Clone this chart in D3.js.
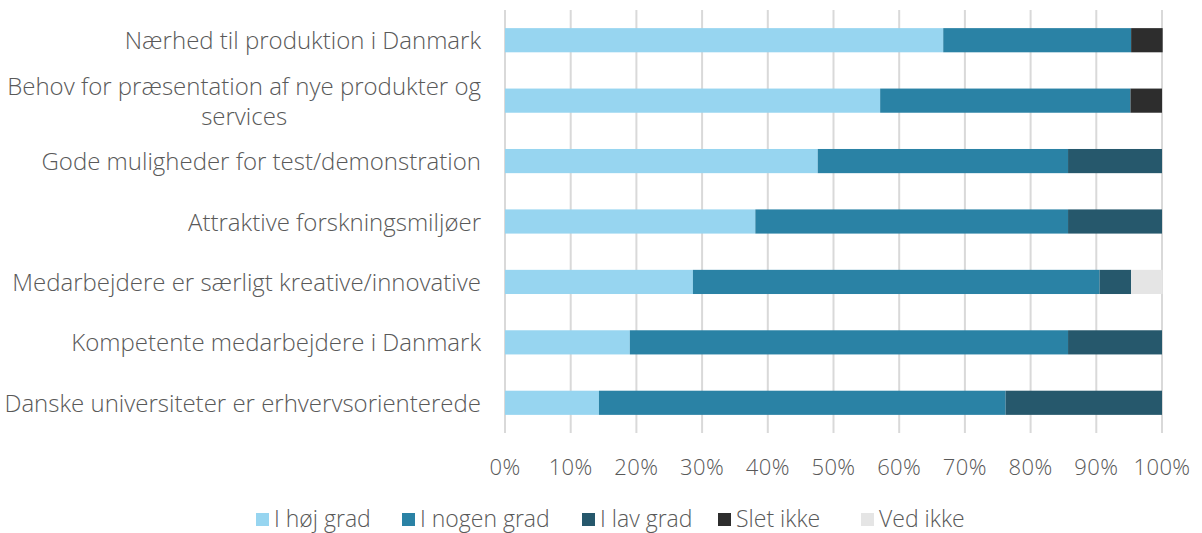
<!DOCTYPE html>
<html>
<head>
<meta charset="utf-8">
<script src="https://cdn.jsdelivr.net/npm/d3@7"></script>
<style>
  body { margin: 0; background: #fff; }
  text { font-family: "Open Sans", Roboto, sans-serif; font-weight: 300; fill: #595959; }
</style>
</head>
<body>
<svg id="chart" width="1202" height="533"></svg>
<script>
const categories = [
  "Nærhed til produktion i Danmark",
  "Behov for præsentation af nye produkter og services",
  "Gode muligheder for test/demonstration",
  "Attraktive forskningsmiljøer",
  "Medarbejdere er særligt kreative/innovative",
  "Kompetente medarbejdere i Danmark",
  "Danske universiteter er erhvervsorienterede"
];
const seriesNames = ["I høj grad", "I nogen grad", "I lav grad", "Slet ikke", "Ved ikke"];
const hoejGrad   = [66.7, 57.1, 47.6, 38.1, 28.6, 19.0, 14.3];
const nogenGrad  = [28.6, 38.1, 38.1, 47.6, 61.9, 66.7, 61.9];
const lavGrad    = [0, 0, 14.3, 14.3, 4.8, 14.3, 23.8];
const sletIkke   = [4.8, 4.8, 0, 0, 0, 0, 0];
const vedIkke    = [0, 0, 0, 0, 4.8, 0, 0];
const xTicks = [0, 10, 20, 30, 40, 50, 60, 70, 80, 90, 100];
const colors = ["#97d5f0", "#2a82a5", "#26586c", "#2d2d2d", "#e5e5e5"];

const svg = d3.select("#chart");
const margin = { top: 10, right: 40, bottom: 100, left: 505 };
const g = svg.append("g").attr("transform", `translate(${margin.left},${margin.top})`);

const rows = categories.map((c, i) => ({
  cat: c,
  [seriesNames[0]]: hoejGrad[i],
  [seriesNames[1]]: nogenGrad[i],
  [seriesNames[2]]: lavGrad[i],
  [seriesNames[3]]: sletIkke[i],
  [seriesNames[4]]: vedIkke[i]
}));

const x = d3.scaleLinear().domain([0, 100]).range([0, 657]);
const y = d3.scaleBand().domain(categories).range([0, 423])
  .paddingInner(0.6).paddingOuter(0.3);

// gridlines
g.append("g")
  .selectAll("line")
  .data(xTicks)
  .join("line")
  .attr("x1", d => x(d)).attr("x2", d => x(d))
  .attr("y1", 0).attr("y2", 423)
  .attr("stroke", "#d9d9d9")
  .attr("stroke-width", 2);

const stacked = d3.stack().keys(seriesNames)(rows);

g.selectAll("g.series")
  .data(stacked)
  .join("g")
  .attr("class", "series")
  .attr("fill", (d, i) => colors[i])
  .selectAll("rect")
  .data(d => d)
  .join("rect")
  .attr("x", d => x(d[0]))
  .attr("width", d => x(d[1]) - x(d[0]))
  .attr("y", d => y(d.data.cat))
  .attr("height", y.bandwidth());

// x tick labels
g.append("g")
  .selectAll("text")
  .data(xTicks)
  .join("text")
  .attr("x", d => x(d))
  .attr("y", 465)
  .attr("text-anchor", "middle")
  .style("font-size", "22px")
  .style("letter-spacing", "0.4px")
  .text(d => d + "%");

// category labels
const labelX = -24;
categories.forEach(c => {
  const cy = y(c) + y.bandwidth() / 2;
  if (c.startsWith("Behov")) {
    const t = g.append("text")
      .attr("x", labelX)
      .attr("y", cy - 6)
      .attr("text-anchor", "end")
      .style("font-size", "24px")
      .text("Behov for præsentation af nye produkter og");
    const w = t.node().getComputedTextLength();
    g.append("text")
      .attr("x", labelX - w / 2)
      .attr("y", cy + 24)
      .attr("text-anchor", "middle")
      .style("font-size", "24px")
      .text("services");
  } else {
    g.append("text")
      .attr("x", labelX)
      .attr("y", cy + 9)
      .attr("text-anchor", "end")
      .style("font-size", "24px")
      .text(c);
  }
});

// legend
const legend = svg.append("g").attr("transform", "translate(0,519)");
const legendX = [256, 402, 582, 718, 861];
seriesNames.forEach((s, i) => {
  const lg = legend.append("g").attr("transform", `translate(${legendX[i]},0)`);
  lg.append("rect").attr("x", 0).attr("y", -6).attr("width", 13).attr("height", 13).attr("fill", colors[i]);
  lg.append("text").attr("x", 18).attr("y", 8).style("font-size", "23px").text(s);
});
</script>
</body>
</html>
